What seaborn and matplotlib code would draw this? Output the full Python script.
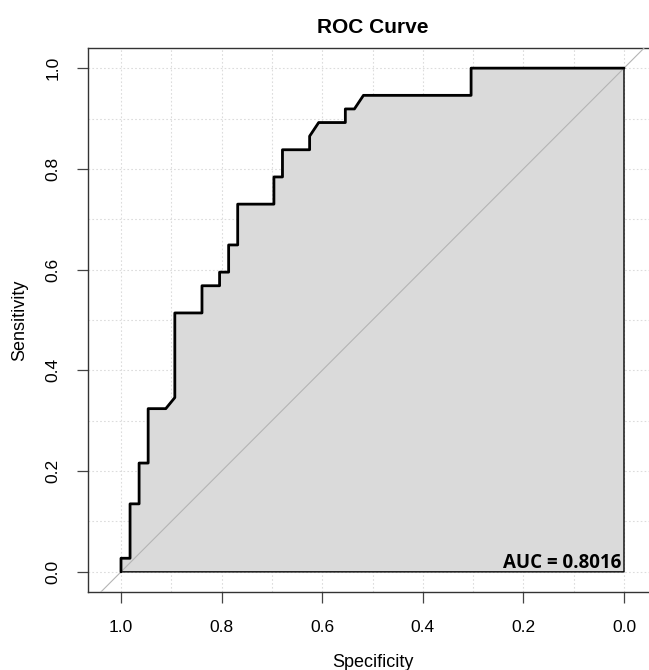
import numpy as np
import pandas as pd
import matplotlib
matplotlib.use("Agg")
import matplotlib.pyplot as plt
import seaborn as sns

# ROC curve points (specificity, sensitivity)
specificity = [1.0, 1.0, 0.982, 0.982, 0.964, 0.964, 0.946, 0.946, 0.911, 0.893,
               0.893, 0.839, 0.839, 0.804, 0.804, 0.786, 0.786, 0.768, 0.768, 0.696,
               0.696, 0.679, 0.679, 0.625, 0.625, 0.607, 0.554, 0.554, 0.536, 0.518,
               0.304, 0.304, 0.0]
sensitivity = [0.0, 0.027, 0.027, 0.135, 0.135, 0.216, 0.216, 0.324, 0.324, 0.346,
               0.514, 0.514, 0.568, 0.568, 0.595, 0.595, 0.649, 0.649, 0.730, 0.730,
               0.784, 0.784, 0.838, 0.838, 0.865, 0.892, 0.892, 0.919, 0.919, 0.946,
               0.946, 1.0, 1.0]
auc_value = 0.8016
major_ticks = [0.0, 0.2, 0.4, 0.6, 0.8, 1.0]
grid_ticks = [0.0, 0.1, 0.2, 0.3, 0.4, 0.5, 0.6, 0.7, 0.8, 0.9, 1.0]

roc_df = pd.DataFrame({"specificity": specificity, "sensitivity": sensitivity})

sns.set_style("white")
plt.rcParams["font.family"] = ["Liberation Sans", "DejaVu Sans"]
plt.rcParams["text.color"] = "black"
plt.rcParams["axes.labelcolor"] = "black"
plt.rcParams["xtick.color"] = "#444444"
plt.rcParams["ytick.color"] = "#444444"
plt.rcParams["xtick.labelcolor"] = "black"
plt.rcParams["ytick.labelcolor"] = "black"

fig = plt.figure(figsize=(6.49, 6.70), dpi=100)
ax = fig.add_axes([88 / 649, 78 / 670, 569 / 649, 544 / 670])

# shaded AUC area
poly_x = specificity + [0.0]
poly_y = sensitivity + [0.0]
ax.fill(poly_x, poly_y, facecolor="#dadada", edgecolor="black", linewidth=1.0, zorder=2)

# chance diagonal
ax.plot([1.2, -0.2], [-0.2, 1.2], color="#b4b4b4", linewidth=0.8, zorder=3)

sns.lineplot(data=roc_df, x="specificity", y="sensitivity", sort=False,
             estimator=None, color="black", linewidth=2.0, ax=ax, zorder=4)

ax.set_xlim(1.0656, -0.0656)
ax.set_ylim(-0.04, 1.04)

ax.set_xticks(major_ticks)
ax.set_yticks(major_ticks)
ax.set_xticks(grid_ticks, minor=True)
ax.set_yticks(grid_ticks, minor=True)
ax.set_xticklabels([f"{t:.1f}" for t in major_ticks])
ax.set_yticklabels([f"{t:.1f}" for t in major_ticks], rotation=90, va="center")
ax.grid(which="both", color="#dcdcdc", linestyle=(0, (1.5, 2)), linewidth=0.8)
ax.set_axisbelow(True)

ax.tick_params(which="major", direction="out", length=8, width=0.9,
               labelsize=12.5, pad=12, bottom=True, left=True)
ax.tick_params(which="minor", length=0)

for side in ["left", "top", "bottom"]:
    ax.spines[side].set_color("#333333")
    ax.spines[side].set_linewidth(1.0)
ax.spines["right"].set_visible(False)

ax.set_xlabel("Specificity", fontsize=13, labelpad=14)
ax.set_ylabel("Sensitivity", fontsize=13, labelpad=12)
ax.set_title("ROC Curve", fontsize=15, fontweight="bold", pad=11)

ax.text(0.005, 0.008, f"AUC = {auc_value:.4f}", ha="right", va="baseline",
        fontsize=13.5, fontweight="bold", family=["Open Sans", "DejaVu Sans"], zorder=5)

fig.savefig("out.png", dpi=100)
